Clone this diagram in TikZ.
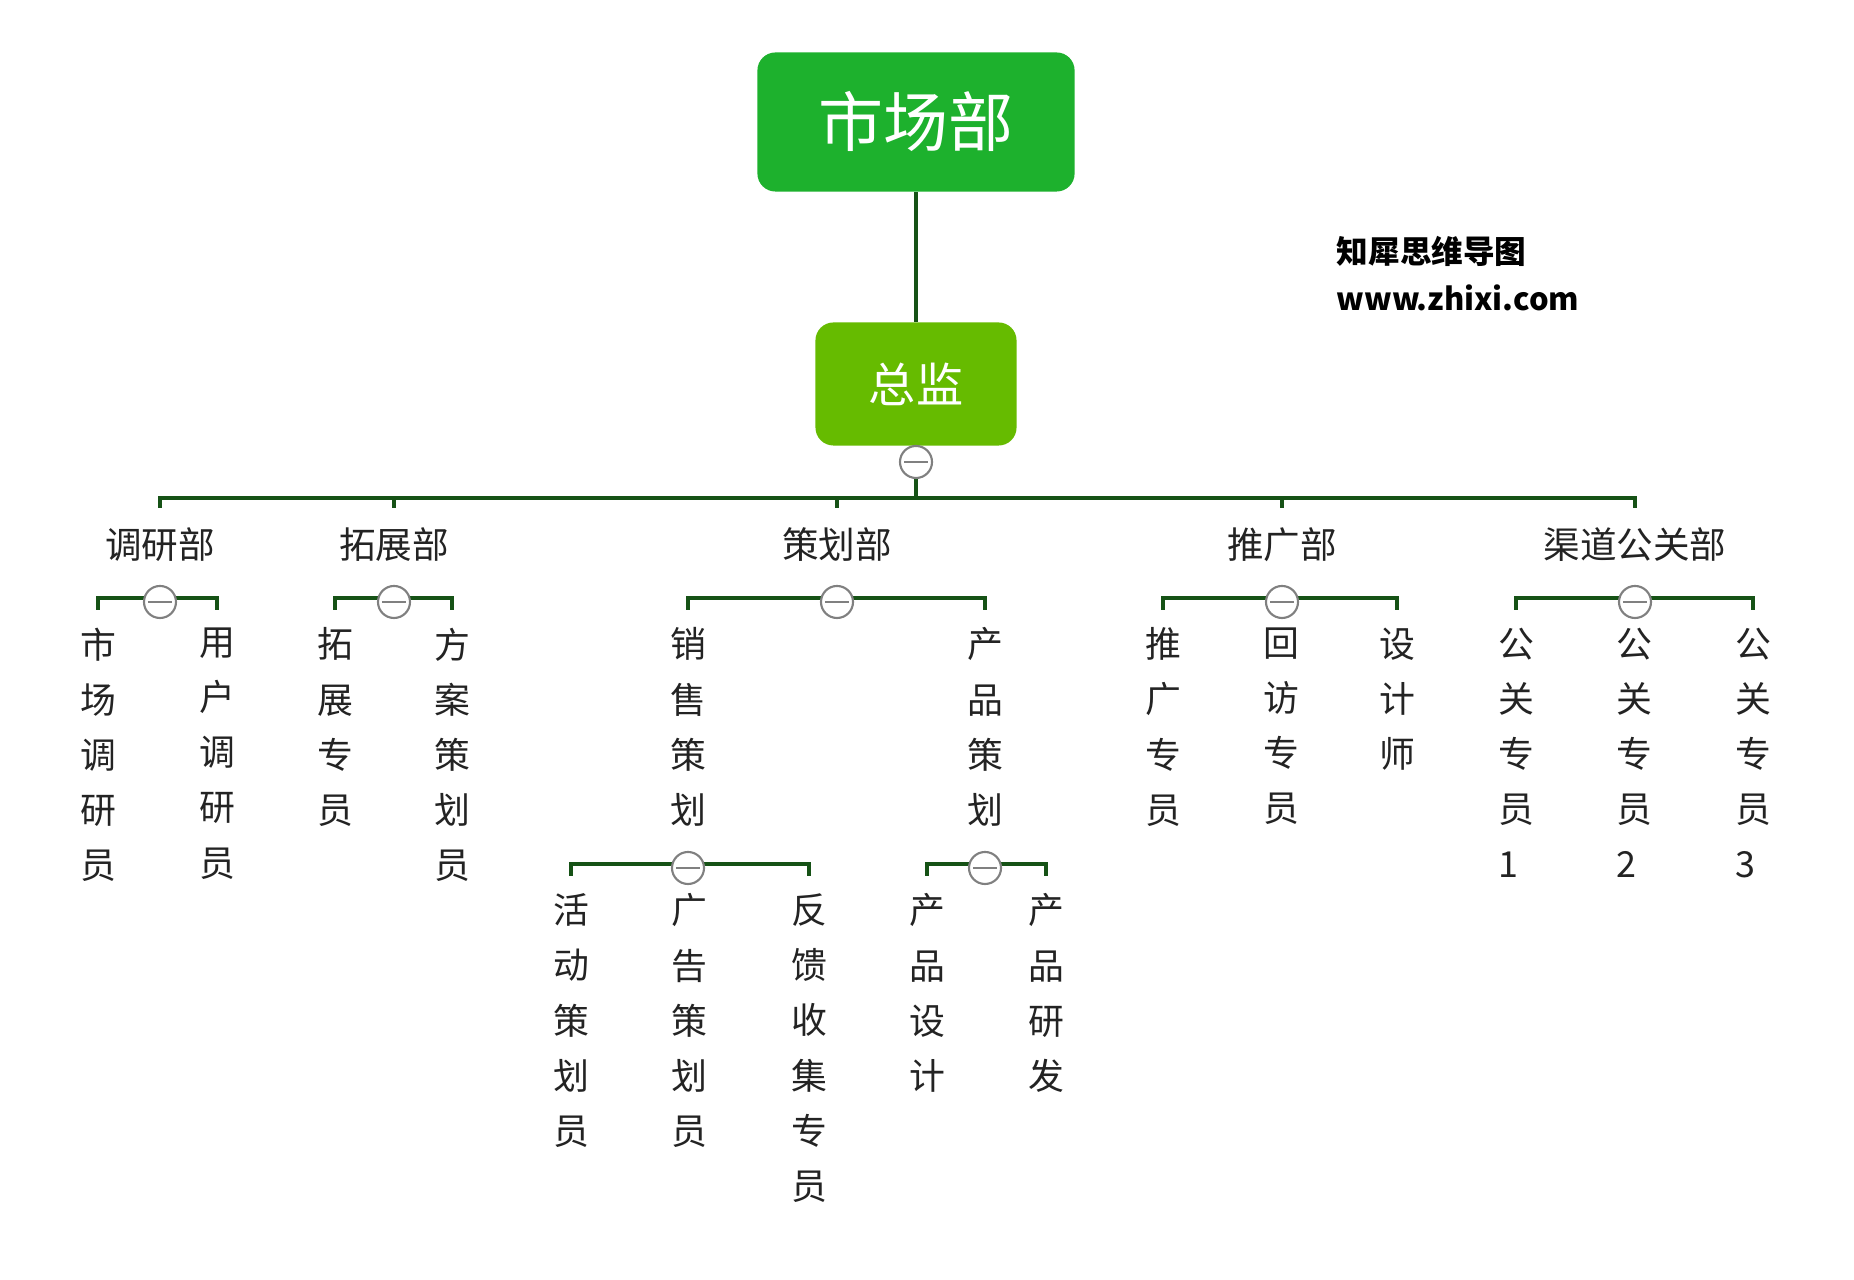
\documentclass[tikz,border=0pt]{standalone}
\usepackage{fontspec}
\setmainfont{Noto Sans CJK SC}
\definecolor{rootgreen}{RGB}{29,177,45}
\definecolor{chiefgreen}{RGB}{102,187,0}
\definecolor{linegreen}{RGB}{22,82,22}
\definecolor{foldgray}{RGB}{128,128,128}
\definecolor{inkgray}{RGB}{35,35,35}

\begin{document}
\begin{tikzpicture}[x=0.01cm, y=-0.01cm]
  \tikzset{every node/.style={inner sep=0pt, text=inkgray},
    rootbox/.style={fill=rootgreen, rounded corners=0.18cm, minimum width=3.17cm,
      minimum height=1.39cm, text=white, font=\fontsize{18.5}{22}\selectfont},
    chiefbox/.style={fill=chiefgreen, rounded corners=0.18cm, minimum width=2.01cm,
      minimum height=1.23cm, text=white, font=\fontsize{13.4}{16}\selectfont},
    dept/.style={font=\fontsize{10.4}{12}\selectfont},
    staff/.style={anchor=north, align=left, font=\fontsize{10.2}{15.7}\selectfont},
    brand/.style={anchor=west, font=\bfseries\fontsize{9}{11}\selectfont, text=black},
    linkline/.style={draw=linegreen, line width=1.25pt},
    foldbtn/.style={circle, draw=foldgray, fill=white, line width=0.6pt, minimum size=0.32cm,
      path picture={\draw[foldgray, line width=0.6pt]
        ([xshift=-0.12cm]path picture bounding box.center) --
        ([xshift=0.12cm]path picture bounding box.center);}}}
  \path[use as bounding box, fill=white] (0,0) rectangle (1854,1280);

  \node[rootbox] (root) at (916,122) {市场部};
  \node[chiefbox] (chief) at (916,384) {总监};
  \coordinate (bus) at (916,498);
  \coordinate (k2) at (0,598);
  \coordinate (k3) at (0,864);

  \node[dept] (d1) at (160,545) {调研部};
  \node[dept] (d2) at (394,545) {拓展部};
  \node[dept] (d3) at (837,545) {策划部};
  \node[dept] (d4) at (1282,545) {推广部};
  \node[dept] (d5) at (1635,545) {渠道公关部};

  \node[staff] (s11) at (98,627) {市\\场\\调\\研\\员};
  \node[staff] (s12) at (217,627) {用\\户\\调\\研\\员};
  \node[staff] (s21) at (335,627) {拓\\展\\专\\员};
  \node[staff] (s22) at (452,627) {方\\案\\策\\划\\员};
  \node[staff] (s31) at (688,627) {销\\售\\策\\划};
  \node[staff] (s32) at (985,627) {产\\品\\策\\划};
  \node[staff] (s41) at (1163,627) {推\\广\\专\\员};
  \node[staff] (s42) at (1281,627) {回\\访\\专\\员};
  \node[staff] (s43) at (1397,627) {设\\计\\师};
  \node[staff] (s51) at (1516,627) {公\\关\\专\\员\\1};
  \node[staff] (s52) at (1634,627) {公\\关\\专\\员\\2};
  \node[staff] (s53) at (1753,627) {公\\关\\专\\员\\3};

  \node[staff] (t1) at (571,893) {活\\动\\策\\划\\员};
  \node[staff] (t2) at (689,893) {广\\告\\策\\划\\员};
  \node[staff] (t3) at (809,893) {反\\馈\\收\\集\\专\\员};
  \node[staff] (t4) at (927,893) {产\\品\\设\\计};
  \node[staff] (t5) at (1046,893) {产\\品\\研\\发};

  \draw[linkline] (root) -- (chief);
  \draw[linkline] (chief) -- (bus);
  \draw[linkline] (d1 |- bus) ++(0,10) |- (d5 |- bus) -- ++(0,10);
  \foreach \d in {d2,d3,d4}
    \draw[linkline] (\d |- bus) -- ++(0,10);

  \draw[linkline] (s11 |- k2) ++(0,12) |- (s12 |- k2) -- ++(0,12);
  \draw[linkline] (s21 |- k2) ++(0,12) |- (s22 |- k2) -- ++(0,12);
  \draw[linkline] (s31 |- k2) ++(0,12) |- (s32 |- k2) -- ++(0,12);
  \draw[linkline] (s41 |- k2) ++(0,12) |- (s43 |- k2) -- ++(0,12);
  \draw[linkline] (s51 |- k2) ++(0,12) |- (s53 |- k2) -- ++(0,12);
  \draw[linkline] (t1 |- k3) ++(0,12) |- (t3 |- k3) -- ++(0,12);
  \draw[linkline] (t4 |- k3) ++(0,12) |- (t5 |- k3) -- ++(0,12);

  \node[foldbtn] (f0) at (916,462) {};
  \node[foldbtn, yshift=-0.04cm] (f1) at (d1 |- k2) {};
  \node[foldbtn, yshift=-0.04cm] (f2) at (d2 |- k2) {};
  \node[foldbtn, yshift=-0.04cm] (f3) at (d3 |- k2) {};
  \node[foldbtn, yshift=-0.04cm] (f4) at (d4 |- k2) {};
  \node[foldbtn, yshift=-0.04cm] (f5) at (d5 |- k2) {};
  \node[foldbtn, yshift=-0.04cm] (f31) at (s31 |- k3) {};
  \node[foldbtn, yshift=-0.04cm] (f32) at (s32 |- k3) {};

  \node[brand] (logo) at (1336,251) {知犀思维导图};
  \node[brand, font=\bfseries\fontsize{8.8}{11}\selectfont] (site) at (1336,298) {www.zhixi.com};
\end{tikzpicture}
\end{document}
